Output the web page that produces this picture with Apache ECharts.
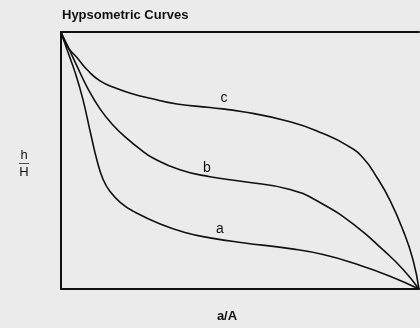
<!DOCTYPE html>
<html>
<head>
<meta charset="utf-8">
<script src="https://cdn.jsdelivr.net/npm/echarts@6/dist/echarts.min.js"></script>
<style>
	html, body { margin: 0; padding: 0; background: #ebebeb; }
	#chart { width: 420px; height: 328px; }
</style>
</head>
<body>
<div id="chart"></div>
<script>
// relative area a/A against relative height h/H
var curveA = [[0, 1], [0.017, 0.931], [0.04, 0.84], [0.061, 0.739], [0.082, 0.61], [0.101, 0.498], [0.118, 0.425], [0.137, 0.379], [0.168, 0.334], [0.201, 0.303], [0.277, 0.253], [0.352, 0.218], [0.416, 0.199], [0.508, 0.180], [0.64, 0.157], [0.732, 0.134], [0.827, 0.096], [0.919, 0.050], [1, 0]];
var curveB = [[0, 1], [0.022, 0.935], [0.045, 0.866], [0.075, 0.78], [0.109, 0.701], [0.145, 0.638], [0.184, 0.586], [0.22, 0.545], [0.257, 0.510], [0.332, 0.464], [0.416, 0.437], [0.508, 0.418], [0.64, 0.387], [0.732, 0.330], [0.827, 0.241], [0.899, 0.153], [0.955, 0.077], [1, 0]];
var curveC = [[0, 1], [0.017, 0.945], [0.045, 0.9], [0.073, 0.853], [0.109, 0.81], [0.156, 0.78], [0.201, 0.759], [0.249, 0.742], [0.324, 0.72], [0.416, 0.706], [0.508, 0.690], [0.64, 0.651], [0.732, 0.605], [0.799, 0.559], [0.844, 0.510], [0.883, 0.433], [0.919, 0.345], [0.955, 0.230], [0.983, 0.115], [1, 0]];
var curveNames = ['a', 'b', 'c'];

function withLabel(data, name, idx, offset) {
	return data.map(function (p, i) {
		if (i !== idx) return p;
		return {
			value: p,
			label: { show: true, formatter: name, position: 'top', distance: 2, offset: offset,
				color: '#111', fontSize: 14, fontFamily: 'Liberation Sans' }
		};
	});
}

function lineSeries(data) {
	return {
		type: 'line',
		data: data,
		smooth: 0.5,
		showSymbol: true,
		symbol: 'circle',
		symbolSize: 0,
		silent: true,
		lineStyle: { color: '#111', width: 1.6 },
		itemStyle: { color: '#111' }
	};
}

var chart = echarts.init(document.getElementById('chart'));
chart.setOption({
	backgroundColor: '#ebebeb',
	animation: false,
	title: {
		text: 'Hypsometric Curves',
		left: 57,
		top: 4,
		textStyle: { fontSize: 13, fontWeight: 'bold', color: '#111', fontFamily: 'Liberation Sans' }
	},
	grid: { left: 61, top: 32, right: 1, bottom: 34 },
	xAxis: [
		{
			type: 'value', min: 0, max: 1, position: 'bottom',
			name: 'a/A', nameLocation: 'middle', nameGap: 21,
			nameTextStyle: { fontSize: 13, fontWeight: 'bold', color: '#111', fontFamily: 'Liberation Sans', padding: [0, 26, 0, 0] },
			axisLine: { lineStyle: { color: '#111', width: 2 } },
			axisTick: { show: false }, axisLabel: { show: false }, splitLine: { show: false }
		},
		{
			type: 'value', min: 0, max: 1, position: 'top',
			axisLine: { show: true, lineStyle: { color: '#111', width: 2 } },
			axisTick: { show: false }, axisLabel: { show: false }, splitLine: { show: false }
		}
	],
	yAxis: {
		type: 'value', min: 0, max: 1,
		name: '{n|h}\n{bar|—}\n{n|H}', nameLocation: 'middle', nameRotate: 0, nameGap: 32,
		nameTextStyle: {
			color: '#111',
			padding: [6, 0, 0, 0],
			rich: {
				n: { fontSize: 13, lineHeight: 12, fontFamily: 'Liberation Sans', color: '#111', align: 'center' },
				bar: { fontSize: 10, lineHeight: 5, fontFamily: 'Liberation Sans', color: '#111', align: 'center' }
			}
		},
		axisLine: { show: true, lineStyle: { color: '#111', width: 2 } },
		axisTick: { show: false }, axisLabel: { show: false }, splitLine: { show: false }
	},
	series: [
		lineSeries(withLabel(curveA, curveNames[0], 12, [10, 0])),
		lineSeries(withLabel(curveB, curveNames[1], 10, [-3, 0])),
		lineSeries(withLabel(curveC, curveNames[2], 9, [14, 0]))
	]
});
</script>
</body>
</html>
